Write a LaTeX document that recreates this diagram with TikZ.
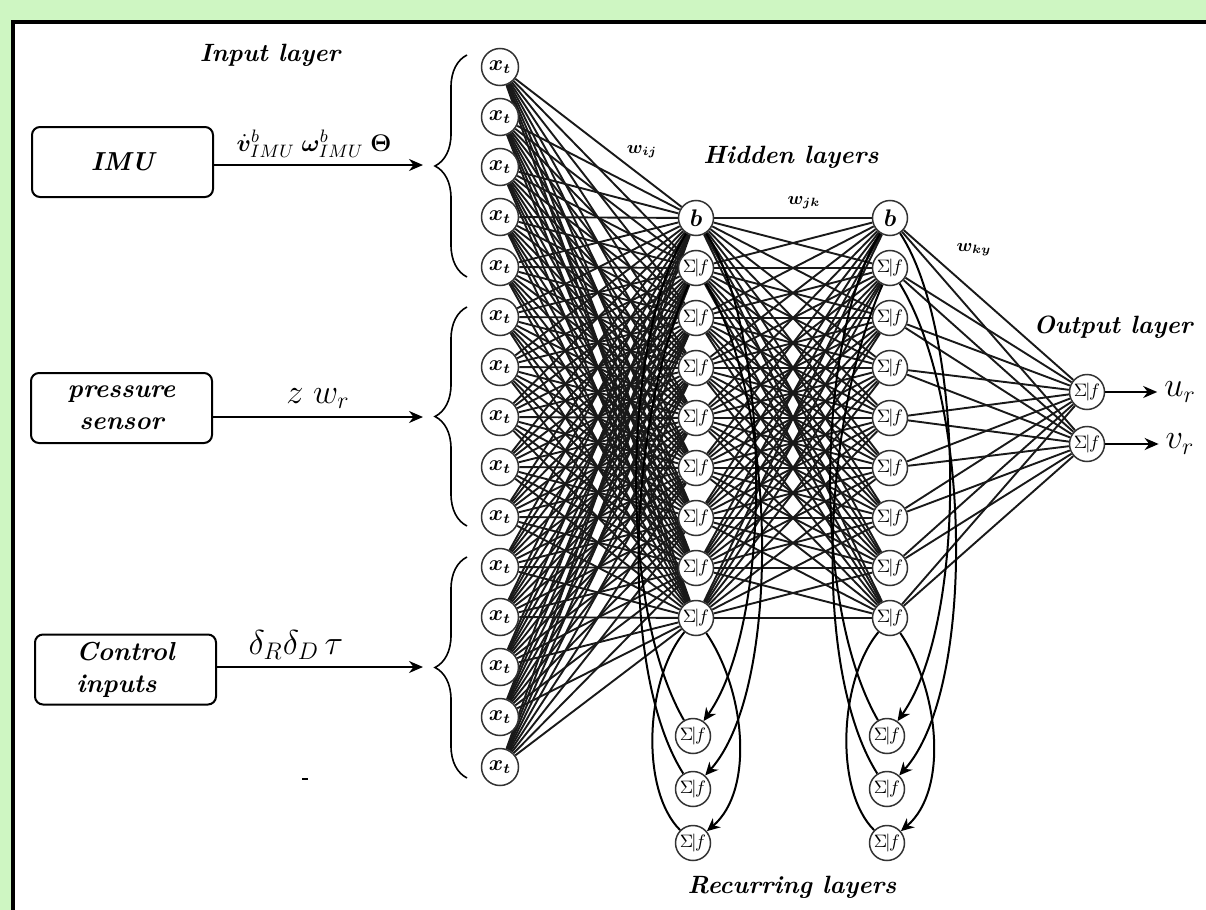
\documentclass[tikz,border=0pt]{standalone}
\usepackage{bm}
\usetikzlibrary{arrows.meta, decorations.pathreplacing}
\definecolor{pagegreen}{RGB}{206,246,194}
\pgfdeclarelayer{back}
\pgfdeclarelayer{wires}
\pgfsetlayers{back,wires,main}
\tikzset{
  mesh/.style={line width=0.95pt, black!90},
  neuron/.style={circle, draw=black!80, line width=0.75pt, fill=white,
    minimum size=17.5pt, inner sep=0pt},
  xnode/.style={neuron, minimum size=18.5pt, font=\fontsize{10.5}{12}\selectfont},
  snode/.style={neuron, font=\fontsize{9.5}{10}\selectfont},
  srcbox/.style={draw, rounded corners=4pt, line width=1pt, minimum width=90.5pt,
    minimum height=35pt, font=\fontsize{13}{16}\selectfont\bfseries\itshape},
  heading/.style={font=\fontsize{12.5}{15}\selectfont\bfseries\itshape},
  wlabel/.style={font=\fontsize{9}{10}\selectfont},
  feed/.style={line width=1pt, -{Stealth[length=7pt, width=6pt]}},
  loopback/.style={line width=1pt, -{Stealth[length=6.5pt, width=6pt]}},
  loopline/.style={line width=1pt},
  bracefig/.style={line width=0.8pt, decorate, decoration={brace, amplitude=16pt}},
}
\newcommand{\sumf}{$\Sigma\kern-0.9pt|\kern-0.7pt f$}
\begin{document}
\begin{tikzpicture}[x=0.5pt, y=-0.5pt]
\useasboundingbox (0,0) rectangle (1206,910);
\begin{pgfonlayer}{back}
  \fill[pagegreen] (0,0) rectangle (1206,910);
  \fill[white] (13,22) rectangle (1206,910);
  \draw[line width=1.6pt] (13,910) -- (13,22) -- (1206,22);
\end{pgfonlayer}

% source blocks and their signals
\node[srcbox] (imu) at (122.5,162) {IMU};
\node[srcbox, align=center] (press) at (121.5,408) {pressure\\sensor};
\node[srcbox, align=left] (ctrl) at (125.5,669.5) {Control\\inputs};
\coordinate (a1) at (423,165);
\coordinate (a2) at (423,417);
\coordinate (a3) at (423,667);
\draw[feed] (imu.east |- a1) -- (a1);
\draw[feed] (press.east |- a2) -- (a2);
\draw[feed] (ctrl.east |- a3) -- (a3);
\node[anchor=base, font=\fontsize{13}{15}\selectfont] (simu) at (314,151)
  {$\dot{\bm v}^{b}_{IMU}\;\bm\omega^{b}_{IMU}\;\bm\Theta$};
\node[anchor=base, font=\fontsize{17}{19}\selectfont] (spress) at (318,403) {$z\;w_r$};
\node[anchor=base, font=\fontsize{17}{19}\selectfont] (sctrl) at (296,654) {$\delta_R\delta_D\,\tau$};
\draw[line width=0.8pt] (302,779) -- (308,779);

% input groupings
\draw[bracefig] (467,277) -- (467,55);
\draw[bracefig] (467,526) -- (467,307);
\draw[bracefig] (467,778) -- (467,557);

% neurons
\foreach \k in {1,...,15}
  \node[xnode] (i\k) at (500,{17+50*\k}) {$\bm{x_t}$};
\foreach \c/\x in {A/696, B/890} {
  \node[snode, font=\fontsize{11.5}{12}\selectfont] (h\c0) at (\x,218) {$\bm{b}$};
  \foreach \k in {1,...,8}
    \node[snode] (h\c\k) at (\x,{218+50*\k}) {\sumf};
  \foreach \k/\y in {1/736, 2/789, 3/843}
    \node[snode] (r\c\k) at ({\x-3},\y) {\sumf};
}
\node[snode] (o1) at (1087,392) {\sumf};
\node[snode] (o2) at (1087,444) {\sumf};
\node[font=\fontsize{18}{20}\selectfont] (ur) at (1180,392) {$u_r$};
\node[font=\fontsize{18}{20}\selectfont] (vr) at (1180,444) {$v_r$};
\draw[feed] (o1) -- (ur);
\draw[feed] (o2) -- (vr);

% connections
\begin{pgfonlayer}{wires}
  \foreach \i in {1,...,15}
    \foreach \j in {0,...,8}
      \draw[mesh] (i\i) -- (hA\j);
  \foreach \i in {0,...,8}
    \foreach \j in {0,...,8}
      \draw[mesh] (hA\i) -- (hB\j);
  \foreach \i in {0,...,8}
    \foreach \j in {1,2}
      \draw[mesh] (hB\i) -- (o\j);
  \foreach \c/\s in {A/0pt, B/97pt} {
    \begin{scope}[xshift=\s]
      \draw[loopback] (h\c0) .. controls (770,330) and (775,620) .. (r\c1);
      \draw[loopback] (h\c1) .. controls (778,400) and (782,690) .. (r\c2);
      \draw[loopback] (h\c8) .. controls (745,690) and (755,790) .. (r\c3);
      \draw[loopline] (h\c0) .. controls (625,330) and (615,600) .. (r\c1);
      \draw[loopline] (h\c1) .. controls (628,420) and (618,670) .. (r\c2);
      \draw[loopline] (h\c8) .. controls (645,680) and (640,790) .. (r\c3);
    \end{scope}
  }
\end{pgfonlayer}

% layer captions and weights
\node[heading] (tin) at (270,55) {Input layer};
\node[heading] (thid) at (791,157) {Hidden layers};
\node[heading] (tout) at (1113,327) {Output layer};
\node[heading] (trec) at (792,887) {Recurring layers};
\node[wlabel] (wij) at (642,152) {$\bm{w_{ij}}$};
\node[wlabel] (wjk) at (804,203) {$\bm{w_{jk}}$};
\node[wlabel] (wky) at (974,250) {$\bm{w_{ky}}$};
\end{tikzpicture}
\end{document}
